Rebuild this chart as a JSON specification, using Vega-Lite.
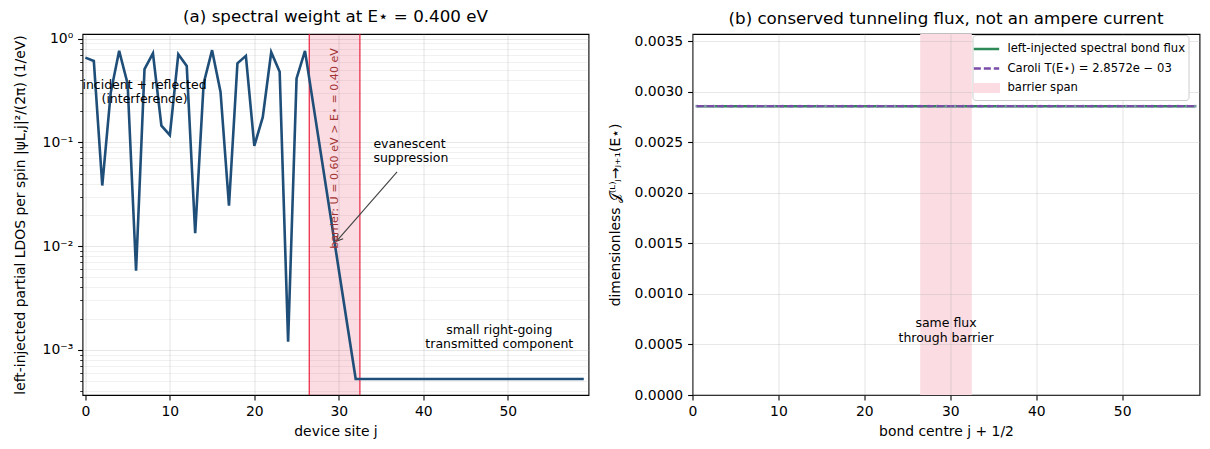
{
  "$schema": "https://vega.github.io/schema/vega-lite/v6.json",
  "background": "white",
  "padding": {"left": 11.5, "top": 8, "right": 5, "bottom": 5},
  "bounds": "flush",
  "spacing": 104,
  "config": {
    "font": "DejaVu Sans",
    "view": {"stroke": "black", "strokeWidth": 1.1},
    "axis": {
      "labelFont": "DejaVu Sans", "titleFont": "DejaVu Sans",
      "labelFontSize": 13.9, "titleFontSize": 13.9,
      "labelColor": "black", "titleColor": "black", "titleFontWeight": "normal",
      "tickColor": "black", "tickSize": 4.9, "tickWidth": 1.1, "labelPadding": 4.9,
      "domain": false, "gridColor": "#b0b0b0", "gridOpacity": 0.3, "gridWidth": 1.1
    },
    "title": {"font": "DejaVu Sans", "fontSize": 16.7, "fontWeight": "normal", "color": "black", "anchor": "middle", "offset": 6, "baseline": "alphabetic"}
  },
  "datasets": {
    "one": [{}],
    "ldos": [
      {"j": 0, "ldos": 0.656}, {"j": 1, "ldos": 0.608}, {"j": 2, "ldos": 0.0384}, {"j": 3, "ldos": 0.30},
      {"j": 4, "ldos": 0.762}, {"j": 5, "ldos": 0.368}, {"j": 6, "ldos": 0.0058}, {"j": 7, "ldos": 0.508},
      {"j": 8, "ldos": 0.722}, {"j": 9, "ldos": 0.145}, {"j": 10, "ldos": 0.1175}, {"j": 11, "ldos": 0.706},
      {"j": 12, "ldos": 0.545}, {"j": 13, "ldos": 0.0133}, {"j": 14, "ldos": 0.37}, {"j": 15, "ldos": 0.773},
      {"j": 16, "ldos": 0.306}, {"j": 17, "ldos": 0.0245}, {"j": 18, "ldos": 0.577}, {"j": 19, "ldos": 0.681},
      {"j": 20, "ldos": 0.0927}, {"j": 21, "ldos": 0.175}, {"j": 22, "ldos": 0.739}, {"j": 23, "ldos": 0.479},
      {"j": 24, "ldos": 0.0012}, {"j": 25, "ldos": 0.413}, {"j": 26, "ldos": 0.762}, {"j": 27, "ldos": 0.226},
      {"j": 28, "ldos": 0.0672}, {"j": 29, "ldos": 0.0200}, {"j": 30, "ldos": 0.00593}, {"j": 31, "ldos": 0.00176},
      {"j": 32, "ldos": 0.000525}, {"j": 33, "ldos": 0.000525}, {"j": 34, "ldos": 0.000525}, {"j": 35, "ldos": 0.000525},
      {"j": 36, "ldos": 0.000525}, {"j": 37, "ldos": 0.000525}, {"j": 38, "ldos": 0.000525}, {"j": 39, "ldos": 0.000525},
      {"j": 40, "ldos": 0.000525}, {"j": 41, "ldos": 0.000525}, {"j": 42, "ldos": 0.000525}, {"j": 43, "ldos": 0.000525},
      {"j": 44, "ldos": 0.000525}, {"j": 45, "ldos": 0.000525}, {"j": 46, "ldos": 0.000525}, {"j": 47, "ldos": 0.000525},
      {"j": 48, "ldos": 0.000525}, {"j": 49, "ldos": 0.000525}, {"j": 50, "ldos": 0.000525}, {"j": 51, "ldos": 0.000525},
      {"j": 52, "ldos": 0.000525}, {"j": 53, "ldos": 0.000525}, {"j": 54, "ldos": 0.000525}, {"j": 55, "ldos": 0.000525},
      {"j": 56, "ldos": 0.000525}, {"j": 57, "ldos": 0.000525}, {"j": 58, "ldos": 0.000525}, {"j": 59, "ldos": 0.000525}
    ],
    "edges": [{"edge": 26.5}, {"edge": 32.5}],
    "flux": [
      {"bond": 0.5, "flux": 0.0028572}, {"bond": 1.5, "flux": 0.0028572}, {"bond": 2.5, "flux": 0.0028572}, {"bond": 3.5, "flux": 0.0028572},
      {"bond": 4.5, "flux": 0.0028572}, {"bond": 5.5, "flux": 0.0028572}, {"bond": 6.5, "flux": 0.0028572}, {"bond": 7.5, "flux": 0.0028572},
      {"bond": 8.5, "flux": 0.0028572}, {"bond": 9.5, "flux": 0.0028572}, {"bond": 10.5, "flux": 0.0028572}, {"bond": 11.5, "flux": 0.0028572},
      {"bond": 12.5, "flux": 0.0028572}, {"bond": 13.5, "flux": 0.0028572}, {"bond": 14.5, "flux": 0.0028572}, {"bond": 15.5, "flux": 0.0028572},
      {"bond": 16.5, "flux": 0.0028572}, {"bond": 17.5, "flux": 0.0028572}, {"bond": 18.5, "flux": 0.0028572}, {"bond": 19.5, "flux": 0.0028572},
      {"bond": 20.5, "flux": 0.0028572}, {"bond": 21.5, "flux": 0.0028572}, {"bond": 22.5, "flux": 0.0028572}, {"bond": 23.5, "flux": 0.0028572},
      {"bond": 24.5, "flux": 0.0028572}, {"bond": 25.5, "flux": 0.0028572}, {"bond": 26.5, "flux": 0.0028572}, {"bond": 27.5, "flux": 0.0028572},
      {"bond": 28.5, "flux": 0.0028572}, {"bond": 29.5, "flux": 0.0028572}, {"bond": 30.5, "flux": 0.0028572}, {"bond": 31.5, "flux": 0.0028572},
      {"bond": 32.5, "flux": 0.0028572}, {"bond": 33.5, "flux": 0.0028572}, {"bond": 34.5, "flux": 0.0028572}, {"bond": 35.5, "flux": 0.0028572},
      {"bond": 36.5, "flux": 0.0028572}, {"bond": 37.5, "flux": 0.0028572}, {"bond": 38.5, "flux": 0.0028572}, {"bond": 39.5, "flux": 0.0028572},
      {"bond": 40.5, "flux": 0.0028572}, {"bond": 41.5, "flux": 0.0028572}, {"bond": 42.5, "flux": 0.0028572}, {"bond": 43.5, "flux": 0.0028572},
      {"bond": 44.5, "flux": 0.0028572}, {"bond": 45.5, "flux": 0.0028572}, {"bond": 46.5, "flux": 0.0028572}, {"bond": 47.5, "flux": 0.0028572},
      {"bond": 48.5, "flux": 0.0028572}, {"bond": 49.5, "flux": 0.0028572}, {"bond": 50.5, "flux": 0.0028572}, {"bond": 51.5, "flux": 0.0028572},
      {"bond": 52.5, "flux": 0.0028572}, {"bond": 53.5, "flux": 0.0028572}, {"bond": 54.5, "flux": 0.0028572}, {"bond": 55.5, "flux": 0.0028572},
      {"bond": 56.5, "flux": 0.0028572}, {"bond": 57.5, "flux": 0.0028572}, {"bond": 58.5, "flux": 0.0028572}
    ]
  },
  "resolve": {
    "scale": {"x": "independent", "y": "independent", "color": "independent", "shape": "independent", "strokeDash": "independent"},
    "legend": {"color": "independent", "shape": "independent", "strokeDash": "independent"}
  },
  "hconcat": [
    {
      "width": 506,
      "height": 361,
      "title": "(a) spectral weight at E⋆ = 0.400 eV",
      "resolve": {"axis": {"y": "independent"}},
      "layer": [
        {
          "data": {"name": "one"},
          "mark": {"type": "rect", "color": "#dc143c", "opacity": 0.15},
          "encoding": {"x": {"datum": 26.5}, "x2": {"datum": 32.5}}
        },
        {
          "data": {"name": "edges"},
          "mark": {"type": "rule", "color": "#e8102e", "strokeWidth": 1.1},
          "encoding": {"x": {"field": "edge", "type": "quantitative"}}
        },
        {
          "data": {"name": "ldos"},
          "mark": {"type": "line", "color": "#1f4e79", "strokeWidth": 2.6},
          "encoding": {
            "x": {"field": "j", "type": "quantitative", "scale": {"domain": [-0.34, 59.56], "nice": false, "zero": false},
                  "axis": {"title": "device site j", "values": [0, 10, 20, 30, 40, 50], "grid": true, "labelFlush": false, "titlePadding": 5.6}},
            "y": {"field": "ldos", "type": "quantitative", "scale": {"type": "log", "domain": [0.000368, 1.107], "nice": false},
                  "axis": {"orient": "left", "values": [0.001, 0.01, 0.1, 1], "grid": true,
                           "labelExpr": "datum.value > 0.5 ? '10⁰' : datum.value > 0.05 ? '10⁻¹' : datum.value > 0.005 ? '10⁻²' : '10⁻³'",
                           "title": "left-injected partial LDOS per spin |ψL,j|²/(2π) (1/eV)", "titleX": -58.5, "titleBaseline": "alphabetic"}}
          }
        },
        {
          "data": {"name": "one"},
          "mark": {"type": "text", "text": ["incident + reflected", "(interference)"], "fontSize": 12.5, "align": "center", "baseline": "middle", "lineHeight": 14.5, "color": "black"},
          "encoding": {
            "x": {"datum": 7.0},
            "y": {"datum": 0.36, "axis": {"orient": "left", "values": [0.0004, 0.0005, 0.0006, 0.0007, 0.0008, 0.0009, 0.002, 0.003, 0.004, 0.005, 0.006, 0.007, 0.008, 0.009, 0.02, 0.03, 0.04, 0.05, 0.06, 0.07, 0.08, 0.09, 0.2, 0.3, 0.4, 0.5, 0.6, 0.7, 0.8, 0.9], "labels": false, "tickSize": 2.8, "tickWidth": 0.8, "grid": true, "gridOpacity": 0.22, "gridWidth": 0.8, "title": null}}
          }
        },
        {
          "data": {"name": "one"},
          "mark": {"type": "text", "text": ["evanescent", "suppression"], "fontSize": 12.5, "align": "left", "baseline": "middle", "lineHeight": 14.5, "color": "black"},
          "encoding": {"x": {"datum": 34.1}, "y": {"datum": 0.0965, "axis": null}}
        },
        {
          "data": {"name": "one"},
          "mark": {"type": "rule", "color": "#404040", "strokeWidth": 1.1},
          "encoding": {"x": {"datum": 36.9}, "y": {"datum": 0.052, "axis": null}, "x2": {"datum": 29.74}, "y2": {"datum": 0.0112}}
        },
        {
          "data": {"name": "one"},
          "mark": {"type": "point", "shape": "M-1,-0.55L0,0L-1,0.55", "filled": false, "stroke": "#404040", "strokeWidth": 1.1, "size": 150, "angle": 131.1, "opacity": 1},
          "encoding": {"x": {"datum": 29.74}, "y": {"datum": 0.0112, "axis": null}}
        },
        {
          "data": {"name": "one"},
          "mark": {"type": "text", "text": ["small right-going", "transmitted component"], "fontSize": 12.5, "align": "center", "baseline": "middle", "lineHeight": 14.5, "color": "black"},
          "encoding": {"x": {"datum": 49.0}, "y": {"datum": 0.00156, "axis": null}}
        },
        {
          "data": {"name": "one"},
          "mark": {"type": "text", "text": "barrier: U = 0.60 eV > E⋆ = 0.40 eV", "angle": 270, "align": "right", "baseline": "middle", "fontSize": 11.1, "color": "#a33333"},
          "encoding": {"x": {"datum": 29.5}, "y": {"datum": 0.81, "axis": null}}
        }
      ]
    },
    {
      "width": 507,
      "height": 361,
      "title": "(b) conserved tunneling flux, not an ampere current",
      "layer": [
        {
          "data": {"name": "one"},
          "mark": {"type": "rect", "opacity": 1},
          "encoding": {
            "x": {"datum": 26.5}, "x2": {"datum": 32.5},
            "color": {"datum": "barrier span", "type": "nominal",
              "scale": {"domain": ["left-injected spectral bond flux", "Caroli T(E⋆) = 2.8572e − 03", "barrier span"], "range": ["#2e8b57", "#7a4ca8", "#fadce2"]},
              "legend": {
                "title": null, "orient": "none", "legendX": 280, "legendY": 1, "zindex": 3,
                "labelFont": "DejaVu Sans", "labelFontSize": 11.6, "labelColor": "black", "labelLimit": 400,
                "symbolType": "M-1.3,0H1.3", "symbolSize": 380, "symbolStrokeWidth": 2.5, "symbolOpacity": 1,
                "labelOffset": 10, "rowPadding": 2.5, "padding": 3,
                "strokeColor": "#cccccc", "fillColor": "white", "cornerRadius": 3
              }}
          }
        },
        {
          "data": {"name": "flux"},
          "mark": {"type": "line", "strokeWidth": 2.5},
          "encoding": {
            "x": {"field": "bond", "type": "quantitative", "scale": {"domain": [0, 59], "nice": false, "zero": false},
                  "axis": {"title": "bond centre j + 1/2", "values": [0, 10, 20, 30, 40, 50], "grid": true, "labelFlush": false, "titlePadding": 5.6, "zindex": 1}},
            "y": {"field": "flux", "type": "quantitative", "scale": {"domain": [0, 0.003571], "nice": false},
                  "axis": {"title": "dimensionless 𝒥⁽ᴸ⁾ⱼ→ⱼ₊₁(E⋆)", "values": [0, 0.0005, 0.001, 0.0015, 0.002, 0.0025, 0.003, 0.0035], "format": ".4f", "grid": true, "titleX": -72.8, "titleBaseline": "alphabetic", "zindex": 1}},
            "color": {"datum": "left-injected spectral bond flux", "type": "nominal"},
            "strokeDash": {"datum": "left-injected spectral bond flux", "type": "nominal",
              "scale": {"domain": ["left-injected spectral bond flux", "Caroli T(E⋆) = 2.8572e − 03", "barrier span"], "range": [[1, 0], [7, 3], [1, 0]]},
              "legend": {"title": null, "orient": "none", "legendX": 280, "legendY": 1}}
          }
        },
        {
          "data": {"name": "flux"},
          "mark": {"type": "point", "shape": "square", "filled": true, "size": 7, "color": "#7f98a6", "opacity": 1},
          "encoding": {
            "x": {"field": "bond", "type": "quantitative"},
            "y": {"field": "flux", "type": "quantitative"}
          }
        },
        {
          "data": {"name": "one"},
          "mark": {"type": "point", "size": 0, "opacity": 1},
          "encoding": {
            "x": {"datum": 29.5},
            "y": {"datum": 0.0028572},
            "shape": {"datum": "left-injected spectral bond flux", "type": "nominal",
              "scale": {"domain": ["left-injected spectral bond flux", "Caroli T(E⋆) = 2.8572e − 03", "barrier span"], "range": ["M-1.3,0H1.3", "M-1.3,0H1.3", "M-1.25,-0.38H1.25V0.38H-1.25Z"]},
              "legend": {"title": null, "orient": "none", "legendX": 280, "legendY": 1}}
          }
        },
        {
          "data": {"name": "flux"},
          "mark": {"type": "line", "strokeWidth": 2.2},
          "encoding": {
            "x": {"field": "bond", "type": "quantitative"},
            "y": {"field": "flux", "type": "quantitative"},
            "color": {"datum": "Caroli T(E⋆) = 2.8572e − 03", "type": "nominal"},
            "strokeDash": {"datum": "Caroli T(E⋆) = 2.8572e − 03", "type": "nominal"}
          }
        },
        {
          "data": {"name": "one"},
          "mark": {"type": "text", "text": ["same flux", "through barrier"], "fontSize": 12.5, "align": "center", "baseline": "middle", "lineHeight": 14.5, "color": "black"},
          "encoding": {"x": {"datum": 29.5}, "y": {"datum": 0.000709}}
        }
      ]
    }
  ]
}
